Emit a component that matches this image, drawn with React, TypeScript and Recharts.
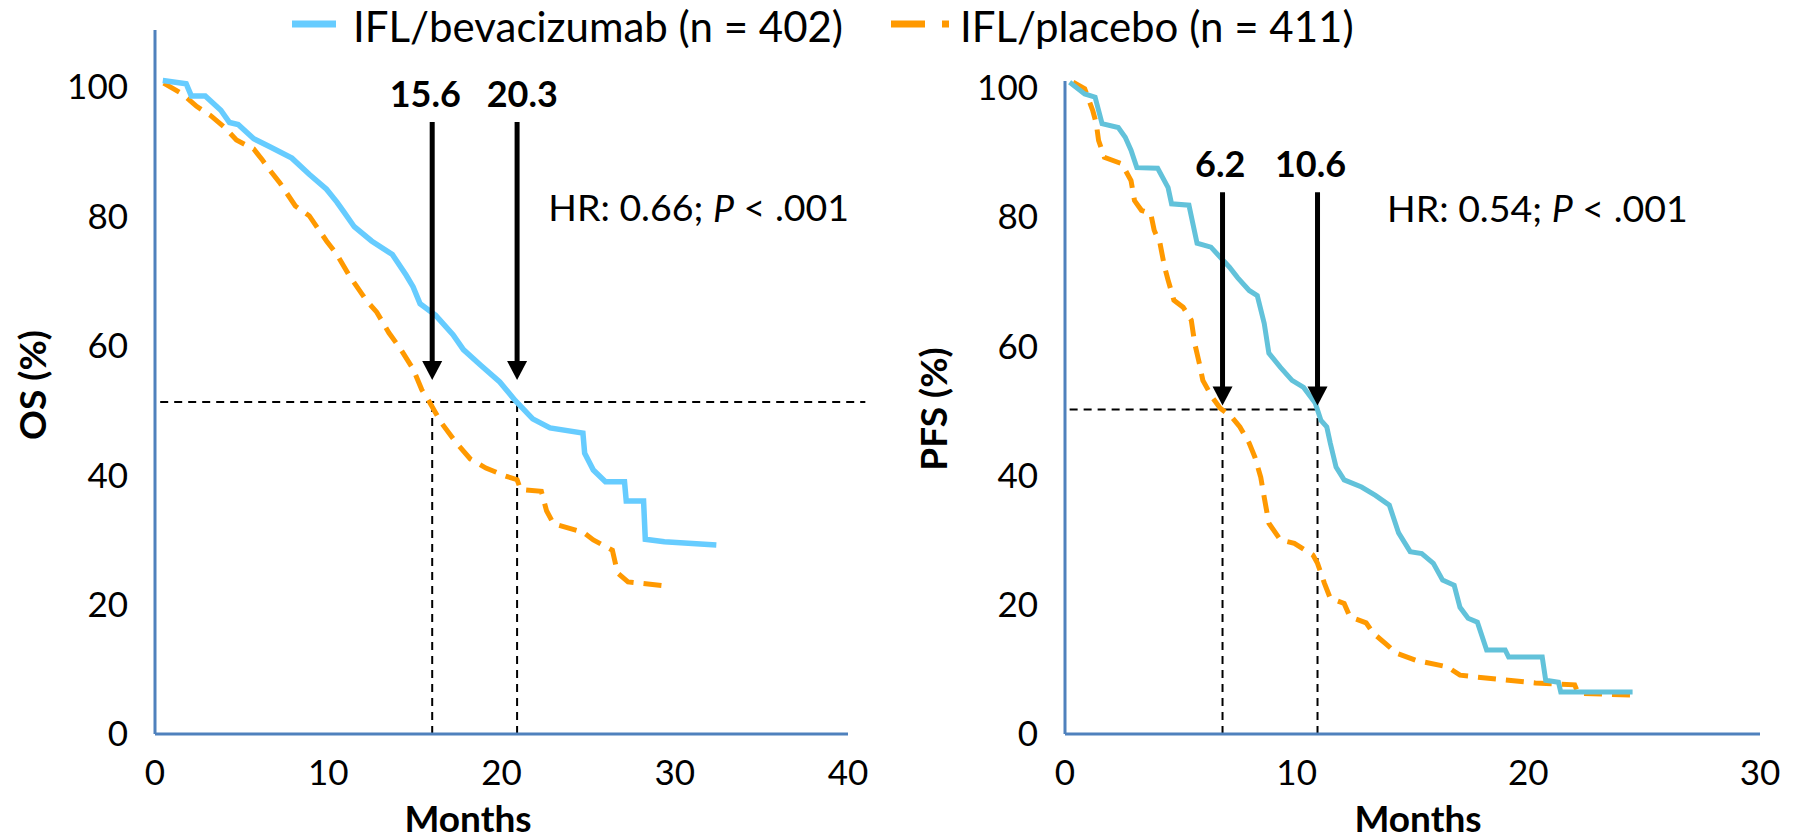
import { LineChart, Line, XAxis, YAxis, ReferenceLine, ReferenceDot, Label } from 'recharts'

const FONT = 'Lato, "Open Sans", sans-serif'
const AXIS_BLUE = '#4F81BD'
const OS_BLUE = '#66CCFF'
const PFS_BLUE = '#62C2DA'
const ORANGE = '#FF9900'

const seriesNames = ['IFL/bevacizumab (n = 402)', 'IFL/placebo (n = 411)']

// Overall survival, months / percent
const osBevMonths = [0.45, 1.8, 2.1, 2.9, 3.8, 4.3, 4.8, 5.7, 6.6, 7.9, 8.9, 9.9, 10.5, 10.9, 11.5, 12.5, 13.7, 14.5, 14.9, 15.3, 16.2, 17.2, 17.8, 18.8, 19.9, 20.8, 21.8, 22.8, 24.7, 24.8, 25.3, 26.0, 27.1, 27.2, 28.2, 28.3, 29.4, 32.4]
const osBevPct = [101.0, 100.5, 98.6, 98.6, 96.4, 94.5, 94.2, 92.0, 90.8, 89.0, 86.5, 84.2, 82.2, 80.7, 78.4, 76.2, 74.1, 70.9, 69.1, 66.5, 64.7, 61.7, 59.4, 57.0, 54.4, 51.5, 48.7, 47.3, 46.5, 43.4, 40.8, 39.0, 39.0, 36.0, 36.0, 30.1, 29.7, 29.2]
const osPlaMonths = [0.5, 1.6, 2.4, 3.2, 4.0, 4.7, 5.7, 6.2, 6.7, 7.2, 8.1, 8.9, 9.9, 10.5, 11.2, 12.2, 12.8, 13.5, 14.2, 14.9, 15.4, 15.8, 16.5, 17.3, 18.2, 19.1, 20.2, 20.9, 21.1, 22.3, 22.6, 23.0, 24.7, 25.3, 26.4, 26.7, 27.3, 29.8]
const osPlaPct = [100.6, 98.9, 97.0, 95.6, 93.8, 91.8, 90.4, 88.7, 86.9, 85.2, 81.6, 80.1, 76.2, 74.1, 70.9, 67.0, 65.2, 62.0, 59.4, 56.4, 53.2, 51.5, 48.2, 45.3, 42.5, 41.1, 39.9, 39.3, 37.8, 37.5, 34.5, 32.5, 31.2, 30.0, 28.4, 24.9, 23.5, 22.8]

// Progression-free survival, months / percent
const pfsBevMonths = [0.2, 0.85, 1.3, 1.6, 2.3, 2.6, 2.85, 3.1, 4.0, 4.45, 4.6, 5.35, 5.7, 6.3, 7.1, 7.45, 7.95, 8.3, 8.6, 8.8, 9.3, 9.8, 10.3, 10.8, 11.05, 11.3, 11.45, 11.7, 12.05, 12.8, 13.4, 14.0, 14.4, 14.9, 15.4, 15.9, 16.3, 16.8, 17.05, 17.4, 17.8, 18.2, 19.0, 19.15, 20.6, 20.75, 21.3, 21.4, 24.5]
const pfsBevPct = [100.8, 99.0, 98.5, 94.4, 93.8, 92.3, 90.3, 87.6, 87.5, 84.5, 82.0, 81.8, 75.9, 75.3, 72.2, 70.6, 68.6, 67.8, 63.5, 58.9, 56.7, 54.7, 53.6, 51.2, 48.5, 47.5, 45.0, 41.3, 39.3, 38.2, 36.9, 35.4, 31.1, 28.2, 27.9, 26.4, 23.8, 23.0, 19.6, 17.9, 17.3, 13.0, 13.0, 11.9, 11.9, 8.3, 8.0, 6.5, 6.5]
const pfsPlaMonths = [0.35, 0.85, 1.2, 1.35, 1.45, 1.7, 2.45, 2.85, 3.0, 3.3, 3.7, 3.85, 4.1, 4.3, 4.45, 4.7, 5.1, 5.45, 5.6, 5.8, 5.95, 6.35, 6.7, 7.2, 7.55, 7.95, 8.2, 8.45, 8.6, 8.8, 9.3, 9.9, 10.7, 10.9, 11.2, 11.45, 12.05, 12.3, 13.0, 13.3, 13.9, 14.3, 15.15, 16.5, 17.05, 17.8, 20.3, 22.0, 22.15, 24.5]
const pfsPlaPct = [100.8, 99.8, 96.4, 94.4, 91.8, 89.2, 88.2, 85.6, 82.5, 81.0, 80.5, 77.9, 75.9, 72.2, 70.2, 67.1, 66.0, 64.0, 60.4, 57.3, 54.7, 52.1, 50.4, 49.0, 47.5, 45.0, 42.8, 39.7, 36.6, 32.6, 30.0, 29.5, 27.7, 26.4, 23.3, 21.0, 20.2, 18.1, 17.2, 15.6, 13.8, 12.5, 11.4, 10.4, 9.1, 8.8, 7.9, 7.6, 6.3, 6.0]

// medians: printed value, where the arrow sits, where the label sits
const osMedianText = ['15.6', '20.3']
const osMedianAt = [16.0, 20.9]
const osMedianLabelAt = [15.6, 21.2]
const pfsMedianText = ['6.2', '10.6']
const pfsMedianAt = [6.8, 10.9]
const pfsMedianLabelAt = [6.7, 10.6]

const osXTicks = [0, 10, 20, 30, 40]
const pfsXTicks = [0, 10, 20, 30]
const yTicks = [0, 20, 40, 60, 80, 100]

const osHr = '0.66'
const pfsHr = '0.54'

const toPoints = (xs: number[], ys: number[]) => xs.map((x, i) => ({ x, y: ys[i] }))

const tickStyle = { fill: '#000', fontSize: 35, fontFamily: FONT }

const arrowHead = (p: any) => (
  <path d={`M${p.cx - 10},${p.cy - 19} L${p.cx + 10},${p.cy - 19} L${p.cx},${p.cy} Z`} fill="#000" />
)

const boldText = (txt: string) => (p: any) => (
  <text x={p.cx} y={p.cy} textAnchor="middle" dominantBaseline="central"
    style={{ fontFamily: FONT, fontSize: 36, fontWeight: 700 }} fill="#000">{txt}</text>
)

const hrText = (hr: string) => (p: any) => (
  <text x={p.cx} y={p.cy} dominantBaseline="central" style={{ fontFamily: FONT, fontSize: 37.5 }} fill="#000">
    HR: {hr}; <tspan fontStyle="italic">P</tspan> &lt; .001
  </text>
)

const axisTitle = (txt: string, x: number, y: number, rotate: boolean) => () => (
  <text x={x} y={y} textAnchor="middle" dominantBaseline="central"
    transform={rotate ? `rotate(-90 ${x} ${y})` : undefined}
    style={{ fontFamily: FONT, fontSize: 37, fontWeight: 700 }} fill="#000">{txt}</text>
)

const dashed = { stroke: '#000', strokeWidth: 2, strokeDasharray: '8 6' }

function Legend() {
  return (
    <div style={{ position: 'absolute', left: 0, top: 0, width: 1798, height: 54, fontFamily: FONT, fontSize: 42, lineHeight: '52px', color: '#000' }}>
      <svg style={{ position: 'absolute', left: 292, top: 20 }} width={44} height={8}>
        <line x1={0} y1={4} x2={44} y2={4} stroke={OS_BLUE} strokeWidth={7} />
      </svg>
      <span style={{ position: 'absolute', left: 353, top: 0, whiteSpace: 'nowrap' }}>{seriesNames[0]}</span>
      <svg style={{ position: 'absolute', left: 891, top: 20 }} width={58} height={8}>
        <line x1={0} y1={4} x2={58} y2={4} stroke={ORANGE} strokeWidth={7} strokeDasharray="34 17" />
      </svg>
      <span style={{ position: 'absolute', left: 960, top: 0, whiteSpace: 'nowrap' }}>{seriesNames[1]}</span>
    </div>
  )
}

export default function App() {
  const osBev = toPoints(osBevMonths, osBevPct)
  const osPla = toPoints(osPlaMonths, osPlaPct)
  const pfsBev = toPoints(pfsBevMonths, pfsBevPct)
  const pfsPla = toPoints(pfsPlaMonths, pfsPlaPct)

  return (
    <div style={{ position: 'absolute', left: 0, top: 0, width: 1798, height: 839, background: '#fff', overflow: 'hidden' }}>
      <Legend />

      {/* OS panel */}
      <div style={{ position: 'absolute', left: 0, top: 0 }}>
        <LineChart width={900} height={839} margin={{ top: 30, right: 52, bottom: 45, left: 95 }}>
          <XAxis type="number" dataKey="x" domain={[0, 40]} ticks={osXTicks} interval={0}
            axisLine={{ stroke: AXIS_BLUE, strokeWidth: 3 }} tickLine={false} tickSize={0} tickMargin={26}
            tick={tickStyle} height={60}>
            <Label content={axisTitle('Months', 468, 817, false)} />
          </XAxis>
          <YAxis type="number" domain={[0, 108.8]} ticks={yTicks} interval={0}
            axisLine={{ stroke: AXIS_BLUE, strokeWidth: 3 }} tickLine={false} tickSize={0} tickMargin={27}
            tick={tickStyle} width={60}>
            <Label content={axisTitle('OS (%)', 31, 385, true)} />
          </YAxis>

          <ReferenceLine segment={[{ x: 0.3, y: 51.3 }, { x: 41, y: 51.3 }]} ifOverflow="visible" {...dashed} />
          {osMedianAt.map(m => (
            <ReferenceLine key={'v' + m} segment={[{ x: m, y: 0 }, { x: m, y: 51.3 }]} {...dashed} />
          ))}

          <Line data={osPla} dataKey="y" type="linear" stroke={ORANGE} strokeWidth={5} strokeDasharray="18 10"
            dot={false} activeDot={false} isAnimationActive={false} />
          <Line data={osBev} dataKey="y" type="linear" stroke={OS_BLUE} strokeWidth={5.5}
            dot={false} activeDot={false} isAnimationActive={false} />

          {osMedianAt.map(m => (
            <ReferenceLine key={'a' + m} segment={[{ x: m, y: 94.6 }, { x: m, y: 56.3 }]} stroke="#000" strokeWidth={5} />
          ))}
          {osMedianAt.map(m => (
            <ReferenceDot key={'h' + m} x={m} y={54.7} shape={arrowHead} />
          ))}
          {osMedianText.map((t, i) => (
            <ReferenceDot key={'t' + t} x={osMedianLabelAt[i]} y={99.1} shape={boldText(t)} />
          ))}
          <ReferenceDot x={22.7} y={81.5} shape={hrText(osHr)} />
        </LineChart>
      </div>

      {/* PFS panel */}
      <div style={{ position: 'absolute', left: 900, top: 0 }}>
        <LineChart width={898} height={839} margin={{ top: 81, right: 38, bottom: 45, left: 105 }}>
          <XAxis type="number" dataKey="x" domain={[0, 30]} ticks={pfsXTicks} interval={0}
            axisLine={{ stroke: AXIS_BLUE, strokeWidth: 3 }} tickLine={false} tickSize={0} tickMargin={26}
            tick={tickStyle} height={60}>
            <Label content={axisTitle('Months', 518, 817, false)} />
          </XAxis>
          <YAxis type="number" domain={[0, 101]} ticks={yTicks} interval={0}
            axisLine={{ stroke: AXIS_BLUE, strokeWidth: 3 }} tickLine={false} tickSize={0} tickMargin={27}
            tick={tickStyle} width={60}>
            <Label content={axisTitle('PFS (%)', 32, 409, true)} />
          </YAxis>

          <ReferenceLine segment={[{ x: 0.2, y: 50.2 }, { x: pfsMedianAt[1], y: 50.2 }]} {...dashed} />
          {pfsMedianAt.map(m => (
            <ReferenceLine key={'v' + m} segment={[{ x: m, y: 0 }, { x: m, y: 50.2 }]} {...dashed} />
          ))}

          <Line data={pfsPla} dataKey="y" type="linear" stroke={ORANGE} strokeWidth={5} strokeDasharray="18 10"
            dot={false} activeDot={false} isAnimationActive={false} />
          <Line data={pfsBev} dataKey="y" type="linear" stroke={PFS_BLUE} strokeWidth={5}
            dot={false} activeDot={false} isAnimationActive={false} />

          {pfsMedianAt.map(m => (
            <ReferenceLine key={'a' + m} segment={[{ x: m, y: 83.8 }, { x: m, y: 52.4 }]} stroke="#000" strokeWidth={5} />
          ))}
          {pfsMedianAt.map(m => (
            <ReferenceDot key={'h' + m} x={m} y={50.8} shape={arrowHead} />
          ))}
          {pfsMedianText.map((t, i) => (
            <ReferenceDot key={'t' + t} x={pfsMedianLabelAt[i]} y={88.3} shape={boldText(t)} />
          ))}
          <ReferenceDot x={13.9} y={81.5} shape={hrText(pfsHr)} />
        </LineChart>
      </div>
    </div>
  )
}
